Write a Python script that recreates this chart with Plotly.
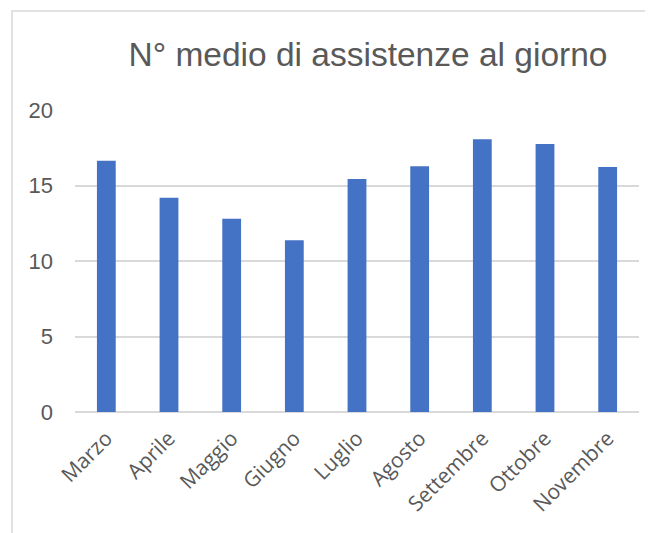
import plotly.graph_objects as go

months = ["Marzo", "Aprile", "Maggio", "Giugno", "Luglio", "Agosto",
          "Settembre", "Ottobre", "Novembre"]
values = [16.64, 14.19, 12.8, 11.37, 15.43, 16.27, 18.06, 17.75, 16.23]
y_ticks = [0, 5, 10, 15, 20]
title_text = "N° medio di assistenze al giorno"

# page body has an 8px margin; work in figure coordinates (screen - 8)
OFF = 8
W, H = 653 - OFF, 533 - OFF
L = 75 - OFF
T = 110 - OFF
plot_right = 639 - OFF
plot_bottom = 412 - OFF
R = W - plot_right
B = H - plot_bottom
pw = W - L - R
ph = H - T - B

def sx(px):
    return (px - OFF - L) / pw

def sy(py):
    return (plot_bottom - (py - OFF)) / ph

fig = go.Figure()
fig.add_trace(go.Bar(x=months, y=values, marker=dict(color="#4472C4", line=dict(width=0))))

fig.update_layout(
    width=W, height=H,
    margin=dict(l=L, r=R, t=T, b=B),
    paper_bgcolor="white", plot_bgcolor="white",
    bargap=0.7,
    showlegend=False,
    title=dict(text=title_text, x=sx(368), xref="paper", xanchor="center",
               y=(H - (54 - OFF)) / H, yanchor="middle",
               font=dict(family="Liberation Sans, Arial, sans-serif", size=33.5, color="#595959")),
    xaxis=dict(tickangle=-45, tickfont=dict(family="Open Sans, sans-serif", size=21, color="#595959"),
               showline=False, ticks="", showgrid=False, ticklabelstandoff=9),
    yaxis=dict(range=[0, 20], tickvals=y_ticks, showgrid=True, gridcolor="#D9D9D9", gridwidth=1.5,
               zeroline=True, zerolinecolor="#D9D9D9", zerolinewidth=1.5,
               tickfont=dict(family="Liberation Sans, Arial, sans-serif", size=22, color="#595959"),
               ticklabelstandoff=21, ticks=""),
    shapes=[dict(type="rect", xref="paper", yref="paper",
                 x0=sx(12), x1=sx(680),
                 y0=sy(560), y1=sy(11),
                 line=dict(color="#D9D9D9", width=1.5), layer="below")],
)

fig.write_html("out.html")
